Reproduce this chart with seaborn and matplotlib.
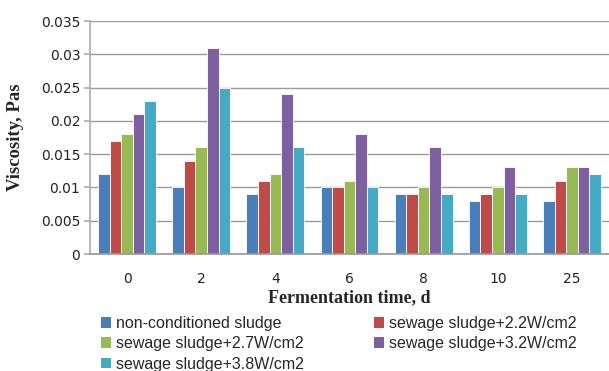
import matplotlib
matplotlib.use("Agg")
import matplotlib.pyplot as plt
import seaborn as sns
import pandas as pd
from matplotlib.patches import Patch

days = ["0", "2", "4", "6", "8", "10", "25"]
series = ["non-conditioned sludge", "sewage sludge+2.2W/cm2", "sewage sludge+2.7W/cm2",
          "sewage sludge+3.2W/cm2", "sewage sludge+3.8W/cm2"]
non_conditioned = [0.012, 0.010, 0.009, 0.010, 0.009, 0.008, 0.008]
s22 = [0.017, 0.014, 0.011, 0.010, 0.009, 0.009, 0.011]
s27 = [0.018, 0.016, 0.012, 0.011, 0.010, 0.010, 0.013]
s32 = [0.021, 0.031, 0.024, 0.018, 0.016, 0.013, 0.013]
s38 = [0.023, 0.025, 0.016, 0.010, 0.009, 0.009, 0.012]
colors = ["#4a7ebb", "#be4b48", "#98b954", "#7d60a0", "#46aac5"]

rows = []
for name, vals in zip(series, [non_conditioned, s22, s27, s32, s38]):
    for d, v in zip(days, vals):
        rows.append({"day": d, "series": name, "value": v})
df = pd.DataFrame(rows)

sns.set_theme(style="white")
plt.rcParams["font.family"] = ["Liberation Sans", "DejaVu Sans"]

fig = plt.figure(figsize=(6.09, 3.71), dpi=100)
ax = fig.add_axes([90/609, 1-254/371, 519/609, 233/371])

sns.barplot(data=df, x="day", y="value", hue="series", order=days, hue_order=series,
            palette=colors, width=0.78, ax=ax, legend=False, edgecolor="white", linewidth=0.6,
            saturation=1)

ax.set_ylim(0, 0.035)
ax.set_xlim(-0.5, 6.5)
ax.set_yticks([0, 0.005, 0.01, 0.015, 0.02, 0.025, 0.03, 0.035])
ax.set_yticklabels(["0", "0.005", "0.01", "0.015", "0.02", "0.025", "0.03", "0.035"])
for lab in ax.get_yticklabels() + ax.get_xticklabels():
    lab.set_family(["DejaVu Sans"])
    lab.set_color("#222222")
ax.yaxis.grid(True, color="#9a9a9a", linewidth=1)
ax.set_axisbelow(True)
for s in ["top", "right"]:
    ax.spines[s].set_visible(False)
ax.spines["left"].set_color("#b0b0b0")
ax.spines["bottom"].set_color("#9a9a9a")
ax.tick_params(axis="y", which="both", left=True, length=4, color="#b0b0b0", labelsize=10, pad=3)
ax.tick_params(axis="x", bottom=False, labelsize=10, pad=7)
ax.set_ylabel("Viscosity, Pas", family=["Liberation Serif"], fontweight="bold", fontsize=13.5, labelpad=12)
ax.set_xlabel("Fermentation time, d", family=["Liberation Serif"], fontweight="bold", fontsize=13, labelpad=2)

order = [0, 2, 4, 1, 3]
handles = [Patch(facecolor=colors[i], edgecolor="none") for i in order]
labels = [series[i] for i in order]
fig.legend(handles, labels, loc="upper left", bbox_to_anchor=(101/609, 1-316/371), ncol=2,
           frameon=False, fontsize=11.5, handlelength=0.65, handleheight=0.65, handletextpad=0.3,
           columnspacing=4.35, labelspacing=0.33, borderpad=0, borderaxespad=0)

fig.savefig("out.png", dpi=100)
